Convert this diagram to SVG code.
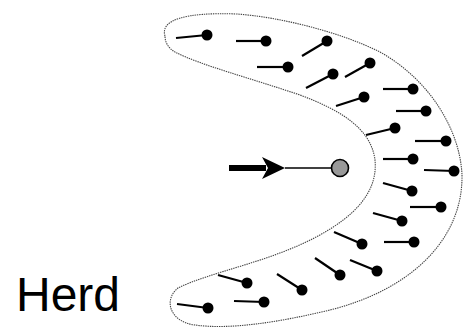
<svg xmlns="http://www.w3.org/2000/svg" width="463" height="330" viewBox="0 0 463 330">
<style>
.outline{fill:none;stroke:#444;stroke-width:1.1;stroke-dasharray:1.4 0.9}
.tail{stroke:#000;stroke-width:2.2;stroke-linecap:butt}
.dot{fill:#000}
.lbl{font-family:"Liberation Sans",Arial,sans-serif;font-size:48px;fill:#000}
</style>
<rect width="463" height="330" fill="#fff"/>
<g id="herd-outline">
<path class="outline" d="M 165,36 C 160,20 185,12 237,14 C 280,17 340,32 380,52 C 430,80 460,130 462,175 C 463,240 410,290 330,310 C 280,322 230,330 195,325 C 170,322 163,300 178,288 C 210,272 270,262 318,236 C 355,216 378,192 375,160 C 371,128 340,110 300,95 C 250,78 200,65 175,52 C 168,48 165,42 165,36 Z"/>
</g>
<g id="agents">
<g id="a1"><line class="tail" x1="176" y1="38" x2="207" y2="35"/><circle class="dot" cx="207" cy="35" r="5.5"/></g>
<g id="a2"><line class="tail" x1="236" y1="41" x2="266" y2="41"/><circle class="dot" cx="266" cy="41" r="5.5"/></g>
<g id="a3"><line class="tail" x1="257" y1="67" x2="288" y2="67"/><circle class="dot" cx="288" cy="67" r="5.5"/></g>
<g id="a4"><line class="tail" x1="302" y1="56" x2="327" y2="41"/><circle class="dot" cx="327" cy="41" r="5.5"/></g>
<g id="a5"><line class="tail" x1="306" y1="88" x2="333" y2="74"/><circle class="dot" cx="333" cy="74" r="5.5"/></g>
<g id="a6"><line class="tail" x1="345" y1="77" x2="370" y2="63"/><circle class="dot" cx="370" cy="63" r="5.5"/></g>
<g id="a7"><line class="tail" x1="336" y1="106" x2="364" y2="97"/><circle class="dot" cx="364" cy="97" r="5.5"/></g>
<g id="a8"><line class="tail" x1="383" y1="89" x2="413" y2="89"/><circle class="dot" cx="413" cy="89" r="5.5"/></g>
<g id="a9"><line class="tail" x1="396" y1="111" x2="426" y2="111"/><circle class="dot" cx="426" cy="111" r="5.5"/></g>
<g id="a10"><line class="tail" x1="366" y1="135" x2="395" y2="128"/><circle class="dot" cx="395" cy="128" r="5.5"/></g>
<g id="a11"><line class="tail" x1="415" y1="141" x2="446" y2="141"/><circle class="dot" cx="446" cy="141" r="5.5"/></g>
<g id="a12"><line class="tail" x1="383" y1="159" x2="413" y2="159"/><circle class="dot" cx="413" cy="159" r="5.5"/></g>
<g id="a13"><line class="tail" x1="424" y1="170" x2="454" y2="171"/><circle class="dot" cx="454" cy="171" r="5.5"/></g>
<g id="a14"><line class="tail" x1="383" y1="183" x2="412" y2="191"/><circle class="dot" cx="412" cy="191" r="5.5"/></g>
<g id="a15"><line class="tail" x1="410" y1="207" x2="441" y2="207"/><circle class="dot" cx="441" cy="207" r="5.5"/></g>
<g id="a16"><line class="tail" x1="373" y1="213" x2="402" y2="221"/><circle class="dot" cx="402" cy="221" r="5.5"/></g>
<g id="a17"><line class="tail" x1="334" y1="232" x2="362" y2="244"/><circle class="dot" cx="362" cy="244" r="5.5"/></g>
<g id="a18"><line class="tail" x1="384" y1="242" x2="414" y2="242"/><circle class="dot" cx="414" cy="242" r="5.5"/></g>
<g id="a19"><line class="tail" x1="315" y1="258" x2="340" y2="275"/><circle class="dot" cx="340" cy="275" r="5.5"/></g>
<g id="a20"><line class="tail" x1="350" y1="260" x2="377" y2="271"/><circle class="dot" cx="377" cy="271" r="5.5"/></g>
<g id="a21"><line class="tail" x1="277" y1="274" x2="302" y2="290"/><circle class="dot" cx="302" cy="290" r="5.5"/></g>
<g id="a22"><line class="tail" x1="218" y1="275" x2="247" y2="283"/><circle class="dot" cx="247" cy="283" r="5.5"/></g>
<g id="a23"><line class="tail" x1="234" y1="301" x2="264" y2="302"/><circle class="dot" cx="264" cy="302" r="5.5"/></g>
<g id="a24"><line class="tail" x1="177" y1="304" x2="208" y2="308"/><circle class="dot" cx="208" cy="308" r="5.5"/></g>
</g>
<g id="predator">
<line x1="285" y1="168" x2="331" y2="168" stroke="#000" stroke-width="1.5"/>
<circle cx="340" cy="168" r="8.5" fill="#999" stroke="#000" stroke-width="1.6"/>
</g>
<g id="connectors">
<rect x="229" y="165" width="37" height="6" fill="#000"/>
<polygon points="285,168 262,157 268,168 262,179" fill="#000"/>
</g>
<text class="lbl" x="16" y="311">Herd</text>
</svg>
